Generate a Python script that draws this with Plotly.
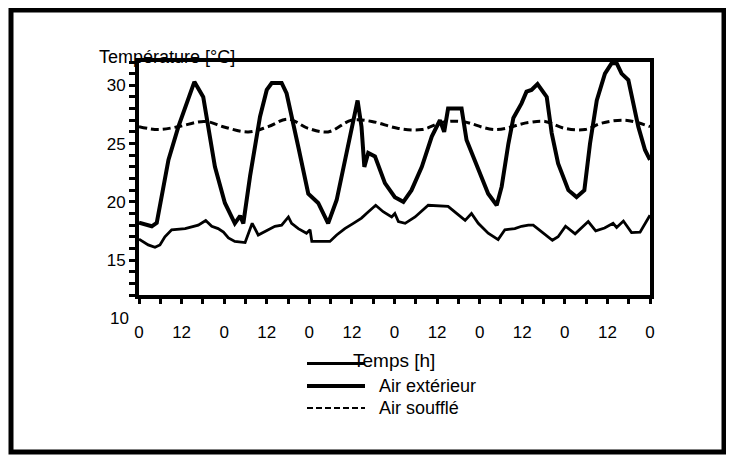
import plotly.graph_objects as go

# ---- data (hours over 6 days, temperatures in °C) ----
hours_ext = [0, 2, 3.6, 5, 8.3, 11.1, 15.6, 18.1, 21.4, 24.2, 27, 28.5, 29.4, 31.3, 34.1, 36,
             37.4, 40.2, 41.6, 44.9, 47.7, 50.5, 53.3, 55.7, 58, 60.4, 61.6, 62.7, 63.5, 64.6,
             66.5, 69.3, 72.1, 74.5, 76.8, 79.7, 82.5, 84.8, 86.0, 87.1, 90.9, 92.3, 95.6, 98.4,
             100.8, 102.2, 104.1, 105.5, 107.8, 109.2, 110.6, 112.3, 114.9, 116.3, 118.1, 121.0,
             123.3, 125.5, 127.1, 129.0, 131.3, 133.2, 134.6, 136.0, 137.9, 140.7, 142.6, 144]
temp_ext = [18.2, 18.0, 17.9, 18.2, 23.6, 26.45, 30.3, 29.0, 23.0, 19.9, 18.15, 18.8, 18.15, 22.2,
            27.3, 29.6, 30.2, 30.2, 29.3, 24.7, 20.7, 19.9, 18.15, 20.15, 23.6, 27.3, 28.7, 26.45,
            23.0, 24.2, 23.9, 21.6, 20.4, 20.0, 21.0, 23.0, 25.6, 27.0, 26.0, 28.0, 28.0, 25.3,
            22.7, 20.7, 19.7, 21.3, 25.0, 27.2, 28.45, 29.45, 29.6, 30.1, 29.0, 25.9, 23.3, 21.0,
            20.4, 21.0, 25.0, 28.7, 31.0, 31.9, 31.9, 31.0, 30.45, 26.45, 24.45, 23.6]

hours_souffle = [0, 5.4, 11.1, 18.6, 24.2, 30.8, 36.4, 42, 47.7, 53.3, 59.9, 65.6, 73.1, 79.7,
                 85.3, 90.9, 100.3, 109.7, 114.4, 120, 125.7, 130.4, 137, 144]
temp_souffle = [26.45, 26.2, 26.45, 26.9, 26.4, 26.0, 26.45, 27.1, 26.3, 26.0, 27.0, 26.9, 26.3,
                26.2, 26.8, 26.9, 26.2, 26.8, 26.9, 26.3, 26.2, 26.75, 27.0, 26.45]

hours_int = [0, 2.6, 4.5, 5.9, 7.3, 9.2, 13, 16.7, 18.8, 20.5, 22.3, 23.8, 25.2, 27, 29.9, 31.3,
             31.9, 33.6, 36.4, 38.3, 40.2, 42.1, 43, 44.9, 47.2, 48.2, 48.7, 51.5, 53.8, 55.7, 58,
             60.4, 62.7, 64.1, 66.7, 68.8, 71.2, 72.1, 73.1, 75, 77.8, 81.5, 85.3, 87.1, 89.5,
             91.9, 93.7, 95.6, 98.4, 101.2, 103.1, 105.9, 107.8, 109.7, 111.1, 113.9, 116.5,
             118.1, 120.2, 122.9, 126.6, 128.7, 131.2, 133.6, 134.6, 136.5, 138.8, 141.2, 144]
temp_int = [16.8, 16.3, 16.1, 16.3, 17.0, 17.6, 17.7, 18.0, 18.4, 17.9, 17.7, 17.4, 16.9, 16.6,
            16.5, 17.6, 18.15, 17.15, 17.6, 17.9, 18.0, 18.7, 18.15, 17.7, 17.3, 17.6, 16.6, 16.6,
            16.6, 17.15, 17.7, 18.15, 18.6, 19.0, 19.7, 19.15, 18.7, 19.0, 18.3, 18.15, 18.7,
            19.7, 19.6, 19.6, 19.0, 18.4, 19.0, 18.15, 17.3, 16.75, 17.6, 17.7, 17.9, 18.0, 18.0,
            17.3, 16.7, 17.0, 17.9, 17.25, 18.3, 17.5, 17.75, 18.15, 17.8, 18.35, 17.35, 17.4,
            18.85]

x_tickvals = list(range(0, 145, 12))
x_ticktext = ["0", "12"] * 6 + ["0"]
y_tickvals = [15, 20, 25, 30]
y_min, y_max = 12, 32

legend_labels = ["", "Air extérieur", "Air soufflé"]

FONT = "Liberation Sans, Arial, sans-serif"

fig = go.Figure()
fig.add_trace(go.Scatter(x=hours_int, y=temp_int, mode="lines",
                         line=dict(color="black", width=2.8), showlegend=False))
fig.add_trace(go.Scatter(x=hours_ext, y=temp_ext, mode="lines", name="Air extérieur",
                         line=dict(color="black", width=4), showlegend=False))
fig.add_trace(go.Scatter(x=hours_souffle, y=temp_souffle, mode="lines", name="Air soufflé",
                         line=dict(color="black", width=3, dash="8px,4px", shape="spline"),
                         showlegend=False))

fig.update_xaxes(range=[0, 144], tickvals=x_tickvals, ticktext=x_ticktext,
                 ticks="outside", ticklen=5, tickwidth=3, tickcolor="black",
                 minor=dict(dtick=6, tick0=0, ticks="outside", ticklen=5, tickwidth=3,
                            tickcolor="black"),
                 showline=True, linewidth=4, linecolor="black", mirror=True,
                 showgrid=False, zeroline=False,
                 tickfont=dict(size=17, color="black", family=FONT),
                 ticklabelstandoff=14)
fig.update_yaxes(range=[y_min, y_max], tickvals=y_tickvals,
                 ticks="outside", ticklen=6, tickwidth=3, tickcolor="black",
                 minor=dict(dtick=1, tick0=0, ticks="outside", ticklen=6, tickwidth=3,
                            tickcolor="black"),
                 showline=True, linewidth=4, linecolor="black", mirror=True,
                 showgrid=False, zeroline=False,
                 tickfont=dict(size=17, color="black", family=FONT))

# the page shows the figure offset by the default body margin
OFF = 8
W, H = 734, 456
L, T = 139 - OFF, 62 - OFF
pw, ph = 511, 233
R, B = W - L - pw, H - T - ph


def px(x):
    return (x - OFF - L) / pw


def py(y):
    return (T + ph - (y - OFF)) / ph


shapes = [
    # outer frame
    dict(type="rect", xref="paper", yref="paper", x0=px(11), x1=px(724), y0=py(452), y1=py(10),
         line=dict(color="black", width=5)),
    # legend samples
    dict(type="line", xref="paper", yref="paper", x0=px(307), x1=px(365), y0=py(363.5), y1=py(363.5),
         line=dict(color="black", width=2.8)),
    dict(type="line", xref="paper", yref="paper", x0=px(307), x1=px(365), y0=py(386), y1=py(386),
         line=dict(color="black", width=4)),
    dict(type="line", xref="paper", yref="paper", x0=px(307), x1=px(365), y0=py(408), y1=py(408),
         line=dict(color="black", width=2, dash="6px,3px")),
]

annotations = [
    dict(text="Température [°C]", xref="paper", yref="paper", x=px(97), y=py(57),
         xanchor="left", yanchor="middle", showarrow=False,
         font=dict(size=18, color="black", family=FONT)),
    dict(text="10", xref="paper", yref="paper", x=px(131), y=(10 - y_min) / (y_max - y_min),
         xanchor="right", yanchor="middle",
         showarrow=False, font=dict(size=17, color="black", family=FONT)),
    dict(text="Temps [h]", xref="paper", yref="paper", x=px(394), y=py(360),
         xanchor="center", yanchor="middle", showarrow=False,
         font=dict(size=19, color="black", family=FONT)),
    dict(text=legend_labels[1], xref="paper", yref="paper", x=px(377), y=py(386),
         xanchor="left", yanchor="middle", showarrow=False,
         font=dict(size=18, color="black", family=FONT)),
    dict(text=legend_labels[2], xref="paper", yref="paper", x=px(377), y=py(408),
         xanchor="left", yanchor="middle", showarrow=False,
         font=dict(size=18, color="black", family=FONT)),
]

fig.update_layout(width=W, height=H, margin=dict(l=L, r=R, t=T, b=B, autoexpand=False),
                  paper_bgcolor="white", plot_bgcolor="white",
                  shapes=shapes, annotations=annotations, showlegend=False,
                  font=dict(family=FONT, color="black"))

fig.write_html("out.html")
